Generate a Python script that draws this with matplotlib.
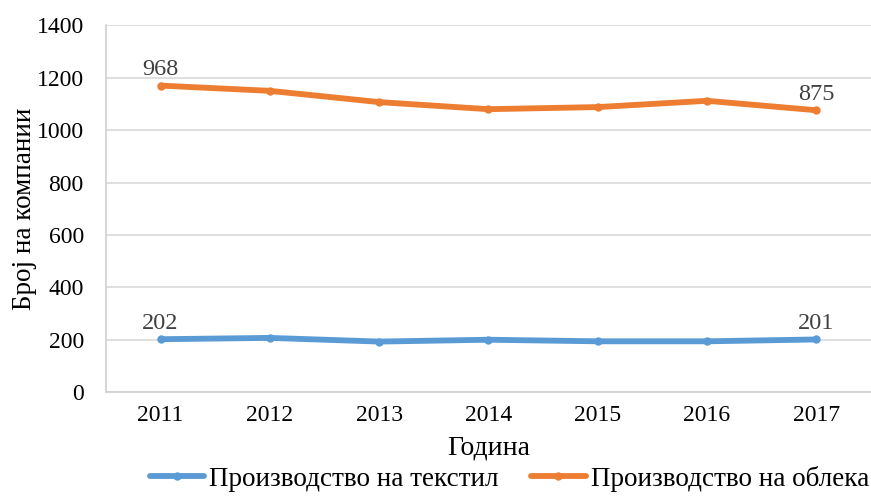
import matplotlib
matplotlib.use("Agg")
import matplotlib.pyplot as plt
import numpy as np

# Data (stacked line chart)
years = ["2011", "2012", "2013", "2014", "2015", "2016", "2017"]
textile = [202, 207, 193, 200, 194, 194, 201]
clothing = [968, 943, 914, 880, 894, 918, 875]
series_names = ["Производство на текстил", "Производство на облека"]

plt.rcParams['font.family'] = ['Liberation Serif', 'DejaVu Serif']

blue = "#5B9BD5"
orange = "#ED7D31"

fig = plt.figure(figsize=(8.71, 4.97), dpi=100)
ax = fig.add_axes([0.1217, 0.211, 0.878, 0.738])

x = np.arange(len(years))
base = np.array(textile)
top = base + np.array(clothing)

ax.plot(x, base, color=blue, lw=4.2, marker='o', ms=5, solid_capstyle='round',
        label=series_names[0], zorder=3)
ax.plot(x, top, color=orange, lw=4.2, marker='o', ms=5, solid_capstyle='round',
        label=series_names[1], zorder=3)

# data labels at first and last point
for i in [0, len(years) - 1]:
    ax.annotate(str(textile[i]), (x[i], base[i]), xytext=(0, 4),
                textcoords='offset points', ha='center', va='bottom',
                fontsize=17.5, color='#404040')
    ax.annotate(str(clothing[i]), (x[i], top[i]), xytext=(0, 4),
                textcoords='offset points', ha='center', va='bottom',
                fontsize=17.5, color='#404040')

ax.set_xlim(-0.5, len(years) - 0.5)
ax.set_ylim(0, 1400)
ax.set_yticks(np.arange(0, 1401, 200))
ax.set_xticks(x)
ax.set_xticklabels(years)
ax.tick_params(axis='both', length=0, labelsize=17, colors='black')
ax.tick_params(axis='x', pad=9)
ax.tick_params(axis='y', pad=16)

ax.grid(axis='y', color='#D9D9D9', lw=1.2)
ax.set_axisbelow(True)
for s in ['top', 'right']:
    ax.spines[s].set_visible(False)
for s in ['left', 'bottom']:
    ax.spines[s].set_color('#D0D0D0')
    ax.spines[s].set_linewidth(1.2)

ax.set_xlabel("Година", fontsize=20, labelpad=7)
ax.set_ylabel("Број на компании", fontsize=19.5, labelpad=0)

fig.legend(loc='lower center', bbox_to_anchor=(0.585, -0.038), ncol=2,
           frameon=False, fontsize=19.5, handlelength=2.0, handletextpad=0.2,
           columnspacing=1.2)

fig.savefig("out.png", dpi=100)
